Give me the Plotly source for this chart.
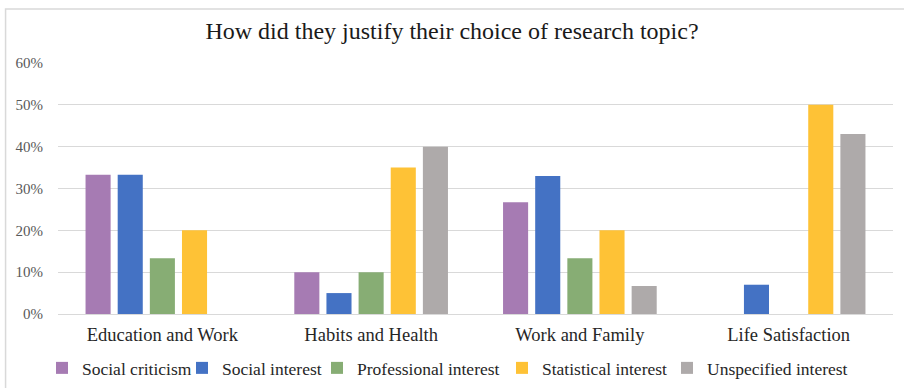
import plotly.graph_objects as go

categories = ["Education and Work", "Habits and Health", "Work and Family", "Life Satisfaction"]
series_names = ["Social criticism", "Social interest", "Professional interest",
                "Statistical interest", "Unspecified interest"]
social_criticism = [0.333, 0.10, 0.267, 0.0]
social_interest = [0.333, 0.05, 0.33, 0.07]
professional_interest = [0.133, 0.10, 0.133, 0.0]
statistical_interest = [0.20, 0.35, 0.20, 0.50]
unspecified_interest = [0.0, 0.40, 0.067, 0.43]
tick_vals = [0, 0.1, 0.2, 0.3, 0.4, 0.5, 0.6]
tick_text = ["0%", "10%", "20%", "30%", "40%", "50%", "60%"]

series_values = [social_criticism, social_interest, professional_interest,
                 statistical_interest, unspecified_interest]
colors = ["#A67BB3", "#4472C4", "#87AD74", "#FEC236", "#AEAAAA"]
legend_widths = [95, 90, 140, 120, 152]

W, H = 904, 388
L, R, T, B = 57.5, 10.5, 63, 74
pw, ph = W - L - R, H - T - B

def px_x(x):
    return (x - L) / pw

def px_y(y):
    return (H - B - y) / ph

fig = go.Figure()
for name, vals, c, lw in zip(series_names, series_values, colors, legend_widths):
    fig.add_trace(go.Bar(name=name, x=categories, y=vals, marker_color=c,
                         marker_line_width=0, legendwidth=lw))

font_family = "Liberation Serif, Times New Roman, serif"
fig.update_layout(
    width=W, height=H,
    margin=dict(l=L, r=R, t=T, b=B, pad=0, autoexpand=False),
    paper_bgcolor="white", plot_bgcolor="white",
    barmode="group", bargap=0.23, bargroupgap=0.22,
    font=dict(family=font_family, color="#404040"),
    title=dict(text="How did they justify their choice of research topic?",
               x=0.5, xref="container", xanchor="center",
               y=1 - 31 / H, yanchor="middle",
               font=dict(family=font_family, size=24, color="#1a1a1a")),
    xaxis=dict(showgrid=False, showline=True, linecolor="#D9D9D9", linewidth=1,
               ticks="", tickfont=dict(size=18.5, color="#262626"),
               ticklabelstandoff=4),
    yaxis=dict(range=[0, 0.6], tickvals=tick_vals, ticktext=tick_text,
               showgrid=True, gridcolor="#D9D9D9", gridwidth=1,
               zeroline=False, showline=False, ticks="",
               tickfont=dict(size=15, color="#595959"), ticklabelstandoff=14),
    legend=dict(orientation="h", xref="container", x=42 / W, xanchor="left",
                yref="container", y=1 - 368 / H, yanchor="middle",
                font=dict(size=17.5, color="#262626"),
                itemwidth=30, tracegroupgap=0, bgcolor="rgba(0,0,0,0)"),
    shapes=[dict(type="rect", xref="paper", yref="paper",
                 x0=px_x(5), x1=px_x(W + 10), y0=px_y(H + 10), y1=px_y(9),
                 line=dict(color="#D9D9D9", width=1.5), fillcolor="rgba(0,0,0,0)",
                 layer="below")],
)

fig.write_html("out.html")
